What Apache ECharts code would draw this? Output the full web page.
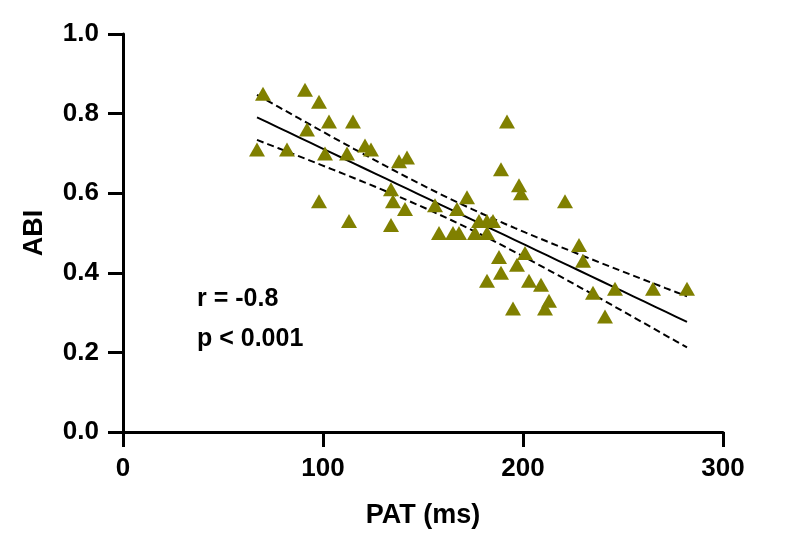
<!DOCTYPE html>
<html>
<head>
<meta charset="utf-8">
<script src="https://cdn.jsdelivr.net/npm/echarts@6/dist/echarts.min.js"></script>
<style>
  html, body { margin: 0; padding: 0; background: #fff; }
  #main { width: 800px; height: 547px; }
</style>
</head>
<body>
<div id="main"></div>
<script>
// values
var patValues = [67, 70, 82, 91, 92, 98, 98, 101, 103, 112,
                 113, 115, 121, 124, 134, 135, 134, 138, 142, 141,
                 156, 158, 165, 167, 168, 172, 176, 178, 182, 182,
                 185, 182, 188, 189, 189, 192, 195, 197, 198, 199,
                 201, 203, 209, 211, 213, 221, 228, 230, 235, 241,
                 246, 265, 282];
var abiValues = [0.71, 0.85, 0.71, 0.86, 0.76, 0.83, 0.58, 0.70, 0.78, 0.70,
                 0.53, 0.78, 0.72, 0.71, 0.61, 0.58, 0.52, 0.68, 0.69, 0.56,
                 0.57, 0.50, 0.50, 0.56, 0.50, 0.59, 0.50, 0.53, 0.53, 0.50,
                 0.53, 0.38, 0.44, 0.40, 0.66, 0.78, 0.31, 0.42, 0.62, 0.60,
                 0.45, 0.38, 0.37, 0.31, 0.33, 0.58, 0.47, 0.43, 0.35, 0.29,
                 0.36, 0.36, 0.36];
var xTickValues = [0, 100, 200, 300];
var yTickValues = [0, 0.2, 0.4, 0.6, 0.8, 1.0];
var statLines = ['r = -0.8', 'p < 0.001'];

var FONT = "'Liberation Sans', Arial, sans-serif";

// linear fit + 95% confidence band
var n = patValues.length;
var mx = 0, my = 0;
for (var i = 0; i < n; i++) { mx += patValues[i]; my += abiValues[i]; }
mx /= n; my /= n;
var sxx = 0, sxy = 0;
for (var i = 0; i < n; i++) {
  sxx += (patValues[i] - mx) * (patValues[i] - mx);
  sxy += (patValues[i] - mx) * (abiValues[i] - my);
}
var slope = sxy / sxx;
var icpt = my - slope * mx;
var sse = 0;
for (var i = 0; i < n; i++) {
  var r = abiValues[i] - (icpt + slope * patValues[i]);
  sse += r * r;
}
var se = Math.sqrt(sse / (n - 2));
var tcrit = 2.008;
var xmin = Math.min.apply(null, patValues), xmax = Math.max.apply(null, patValues);
var fit = [], upper = [], lower = [];
for (var k = 0; k <= 40; k++) {
  var x = xmin + (xmax - xmin) * k / 40;
  var yh = icpt + slope * x;
  var h = tcrit * se * Math.sqrt(1 / n + (x - mx) * (x - mx) / sxx);
  fit.push([x, yh]);
  upper.push([x, yh + h]);
  lower.push([x, yh - h]);
}

var points = patValues.map(function (v, i) { return [v, abiValues[i]]; });

var myChart = echarts.init(document.getElementById('main'));
var option = {
  animation: false,
  grid: { left: 123, right: 77, top: 34, bottom: 115 },
  xAxis: {
    type: 'value',
    min: 0, max: 300, interval: 100,
    name: 'PAT (ms)',
    nameLocation: 'middle',
    nameGap: 70,
    nameTextStyle: { color: '#000', fontSize: 27, fontWeight: 'bold', fontFamily: FONT },
    axisLine: { show: true, onZero: false, lineStyle: { color: '#000', width: 3 } },
    axisTick: { show: true, length: 15, lineStyle: { color: '#000', width: 3 } },
    axisLabel: {
      color: '#000', fontSize: 26, fontWeight: 'bold', fontFamily: FONT, margin: 24,
      formatter: function (v) { return xTickValues.indexOf(v) >= 0 ? String(v) : ''; }
    },
    splitLine: { show: false }
  },
  yAxis: {
    type: 'value',
    min: 0, max: 1, interval: 0.2,
    name: 'ABI',
    nameLocation: 'middle',
    nameGap: 75,
    nameTextStyle: { color: '#000', fontSize: 27, fontWeight: 'bold', fontFamily: FONT },
    axisLine: { show: true, onZero: false, lineStyle: { color: '#000', width: 3 } },
    axisTick: { show: true, length: 15, lineStyle: { color: '#000', width: 3 } },
    axisLabel: {
      color: '#000', fontSize: 26, fontWeight: 'bold', fontFamily: FONT, margin: 24,
      formatter: function (v) { return v.toFixed(1); }
    },
    splitLine: { show: false }
  },
  graphic: [
    { type: 'text', left: 197, top: 287,
      style: { text: statLines[0], fill: '#000', font: 'bold 25px ' + FONT } },
    { type: 'text', left: 197, top: 327,
      style: { text: statLines[1], fill: '#000', font: 'bold 25px ' + FONT } }
  ],
  series: [
    { type: 'line', data: fit, showSymbol: false, z: 2,
      lineStyle: { color: '#000', width: 2 } },
    { type: 'line', data: upper, showSymbol: false, z: 2,
      lineStyle: { color: '#000', width: 2, type: [7, 4] } },
    { type: 'line', data: lower, showSymbol: false, z: 2,
      lineStyle: { color: '#000', width: 2, type: [7, 4] } },
    { type: 'scatter', data: points, symbol: 'triangle', symbolSize: [16, 14], z: 3,
      itemStyle: { color: '#808000', opacity: 1 } }
  ]
};
myChart.setOption(option);
</script>
</body>
</html>
